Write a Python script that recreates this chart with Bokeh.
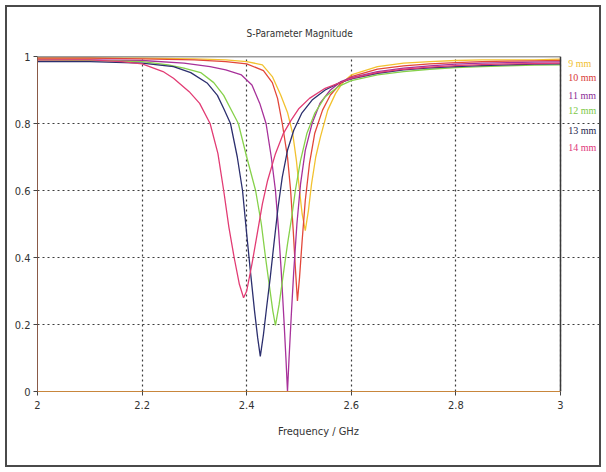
from bokeh.plotting import figure
from bokeh.models import FixedTicker, Label, Range1d
from bokeh.embed import file_html
from bokeh.resources import INLINE

FONT = "Liberation Sans Narrow, DejaVu Sans Condensed, Liberation Sans, sans-serif"
LEGEND_FONT = "Liberation Serif, serif"

# ---- data (frequency in GHz, |S| magnitude) ----
names = ["9 mm", "10 mm", "11 mm", "12 mm", "13 mm", "14 mm"]
colors = ["#f2c230", "#e2473a", "#a7319a", "#86d14a", "#2c2f6e", "#e23c74"]
label_colors = ["#f0c030", "#d83a36", "#8a2c96", "#7cc848", "#22244a", "#e0357a"]

f_9mm = [2.0, 2.2, 2.3, 2.36, 2.40, 2.43, 2.449, 2.465, 2.478, 2.488, 2.495, 2.501, 2.506, 2.512,
         2.518, 2.524, 2.532, 2.541, 2.555, 2.57, 2.585, 2.60, 2.65, 2.7, 2.75, 2.8, 2.85, 2.9, 2.95, 3.0]
s_9mm = [0.995, 0.995, 0.993, 0.99, 0.985, 0.975, 0.94, 0.885, 0.833, 0.77, 0.69, 0.60, 0.53, 0.48,
         0.54, 0.62, 0.70, 0.76, 0.84, 0.89, 0.925, 0.945, 0.97, 0.98, 0.985, 0.988, 0.99, 0.99, 0.99, 0.992]

f_10mm = [2.0, 2.1, 2.2, 2.3, 2.36, 2.40, 2.432, 2.449, 2.459, 2.468, 2.478, 2.484, 2.489, 2.493, 2.497,
          2.501, 2.506, 2.512, 2.52, 2.53, 2.545, 2.56, 2.58, 2.60, 2.65, 2.7, 2.75, 2.8, 2.85, 2.9, 2.95, 3.0]
s_10mm = [0.995, 0.995, 0.993, 0.99, 0.985, 0.978, 0.958, 0.922, 0.875, 0.80, 0.70, 0.60, 0.48, 0.37, 0.27,
          0.34, 0.45, 0.57, 0.68, 0.77, 0.84, 0.885, 0.92, 0.94, 0.962, 0.972, 0.978, 0.982, 0.985, 0.986, 0.987, 0.988]

f_11mm = [2.0, 2.1, 2.2, 2.28, 2.33, 2.36, 2.39, 2.41, 2.425, 2.437, 2.447, 2.455, 2.461, 2.466, 2.471, 2.475, 2.478,
          2.481, 2.485, 2.49, 2.496, 2.503, 2.512, 2.525, 2.54, 2.56, 2.58, 2.60, 2.65, 2.7, 2.75, 2.8, 2.85, 2.9, 2.95, 3.0]
s_11mm = [0.99, 0.99, 0.988, 0.98, 0.97, 0.96, 0.945, 0.915, 0.86, 0.80, 0.70, 0.60, 0.48, 0.36, 0.22, 0.10, 0.0,
          0.10, 0.22, 0.36, 0.50, 0.62, 0.72, 0.80, 0.86, 0.90, 0.925, 0.937, 0.955, 0.965, 0.972, 0.977, 0.98, 0.982, 0.983, 0.984]

f_12mm = [2.0, 2.1, 2.2, 2.25, 2.28, 2.312, 2.337, 2.356, 2.373, 2.384, 2.40, 2.417, 2.428, 2.436, 2.443, 2.45, 2.455,
          2.462, 2.47, 2.478, 2.486, 2.493, 2.503, 2.515, 2.53, 2.55, 2.575, 2.60, 2.65, 2.7, 2.75, 2.8, 2.85, 2.9, 2.95, 3.0]
s_12mm = [0.99, 0.988, 0.985, 0.975, 0.965, 0.952, 0.922, 0.884, 0.833, 0.80, 0.70, 0.60, 0.50, 0.40, 0.32, 0.24, 0.197,
          0.26, 0.35, 0.44, 0.52, 0.60, 0.69, 0.77, 0.83, 0.88, 0.91, 0.928, 0.945, 0.955, 0.962, 0.967, 0.97, 0.972, 0.974, 0.975]

f_13mm = [2.0, 2.1, 2.2, 2.26, 2.293, 2.325, 2.344, 2.356, 2.369, 2.382, 2.392, 2.40, 2.407, 2.415, 2.421, 2.426,
          2.432, 2.438, 2.445, 2.452, 2.46, 2.468, 2.478, 2.49, 2.505, 2.525, 2.55, 2.575, 2.60, 2.65, 2.7, 2.75, 2.8, 2.85, 2.9, 2.95, 3.0]
s_13mm = [0.985, 0.985, 0.98, 0.97, 0.952, 0.92, 0.884, 0.845, 0.80, 0.70, 0.60, 0.47, 0.36, 0.24, 0.16, 0.105,
          0.17, 0.25, 0.34, 0.44, 0.55, 0.64, 0.72, 0.78, 0.83, 0.87, 0.90, 0.92, 0.933, 0.95, 0.96, 0.966, 0.97, 0.973, 0.975, 0.977, 0.978]

f_14mm = [2.0, 2.1, 2.16, 2.2, 2.24, 2.26, 2.29, 2.31, 2.33, 2.345, 2.356, 2.366, 2.376, 2.386, 2.394,
          2.40, 2.41, 2.42, 2.43, 2.44, 2.455, 2.47, 2.485, 2.50, 2.52, 2.55, 2.60, 2.65, 2.7, 2.75, 2.8, 2.85, 2.9, 2.95, 3.0]
s_14mm = [0.99, 0.99, 0.985, 0.978, 0.955, 0.935, 0.895, 0.86, 0.80, 0.71, 0.60, 0.49, 0.40, 0.32, 0.28,
          0.30, 0.38, 0.47, 0.56, 0.63, 0.71, 0.77, 0.81, 0.845, 0.875, 0.905, 0.935, 0.952, 0.962, 0.968, 0.973, 0.976, 0.978, 0.979, 0.98]

freqs = [f_9mm, f_10mm, f_11mm, f_12mm, f_13mm, f_14mm]
mags = [s_9mm, s_10mm, s_11mm, s_12mm, s_13mm, s_14mm]

# legend label vertical positions (in data units, right of the plot box)
legend_y = [0.979, 0.937, 0.884, 0.839, 0.779, 0.728]

x_ticks = [2, 2.2, 2.4, 2.6, 2.8, 3]
x_tick_labels = ["2", "2.2", "2.4", "2.6", "2.8", "3"]
y_ticks = [0, 0.2, 0.4, 0.6, 0.8, 1]
y_tick_labels = ["0", "0.2", "0.4", "0.6", "0.8", "1"]

# plot box spans x 2..3; the frame extends further right to hold the legend texts
FW, FH = 562, 335
ML, MR, MT, MB = 30, 0, 49, 74
px_per_ghz = 523.0
x_end = x_ticks[0] + FW / px_per_ghz

p = figure(frame_width=FW, frame_height=FH, output_backend="svg", toolbar_location=None,
           x_range=Range1d(x_ticks[0], x_end), y_range=Range1d(y_ticks[0], y_ticks[-1]),
           min_border_left=ML, min_border_right=MR, min_border_top=MT, min_border_bottom=MB,
           title="S-Parameter Magnitude", x_axis_label="Frequency / GHz")
p.styles = {"margin": "5px", "border": "2px solid #4a4a4a"}
p.background_fill_color = "white"
p.border_fill_color = "white"
p.outline_line_color = None

p.title.align = "left"
p.title.offset = 209
p.title.text_font = FONT
p.title.text_font_size = "10px"
p.title.text_font_style = "normal"
p.title.text_color = "#333333"
p.title.standoff = 36

for ax, ticks, labels in ((p.xaxis, x_ticks, x_tick_labels), (p.yaxis, y_ticks, y_tick_labels)):
    ax.ticker = FixedTicker(ticks=ticks)
    ax.major_label_overrides = {t: l for t, l in zip(ticks, labels)}
    ax.minor_tick_line_color = None
    ax.major_tick_in = 0
    ax.major_tick_out = 4
    ax.major_label_text_font = FONT
    ax.major_label_text_font_size = "11px"
    ax.major_label_text_color = "#333333"
    ax.major_tick_line_color = "#444444"

p.xaxis.bounds = (x_ticks[0], x_ticks[-1])
p.xaxis.axis_line_color = "#c8863c"
p.yaxis.axis_line_color = "#8a5a48"
p.xaxis.axis_label_text_font = FONT
p.xaxis.axis_label_text_font_size = "11px"
p.xaxis.axis_label_text_font_style = "normal"
p.xaxis.axis_label_text_color = "#333333"
p.xaxis.axis_label_standoff = 13
p.yaxis.major_label_standoff = 3

p.grid.grid_line_color = "#3c3c3c"
p.grid.grid_line_dash = "2 3"
p.grid.grid_line_width = 1.2
p.ygrid.bounds = (x_ticks[0], x_ticks[-1])

for f, s, c in zip(freqs, mags, colors):
    p.line(f, s, line_color=c, line_width=1.3)

# top and right edges of the plot box
p.segment(x0=[x_ticks[0], x_ticks[-1]], y0=[y_ticks[-1], y_ticks[0]],
          x1=[x_ticks[-1], x_ticks[-1]], y1=[y_ticks[-1], y_ticks[-1]],
          line_color="#3a3a3a", line_width=1.5)

for name, y, c in zip(names, legend_y, label_colors):
    p.add_layout(Label(x=x_ticks[-1] + 0.015, y=y, text=name, text_color=c, text_font=LEGEND_FONT,
                       text_font_size="10px", text_baseline="middle", text_align="left"))

open("out.html", "w").write(file_html(p, INLINE))
